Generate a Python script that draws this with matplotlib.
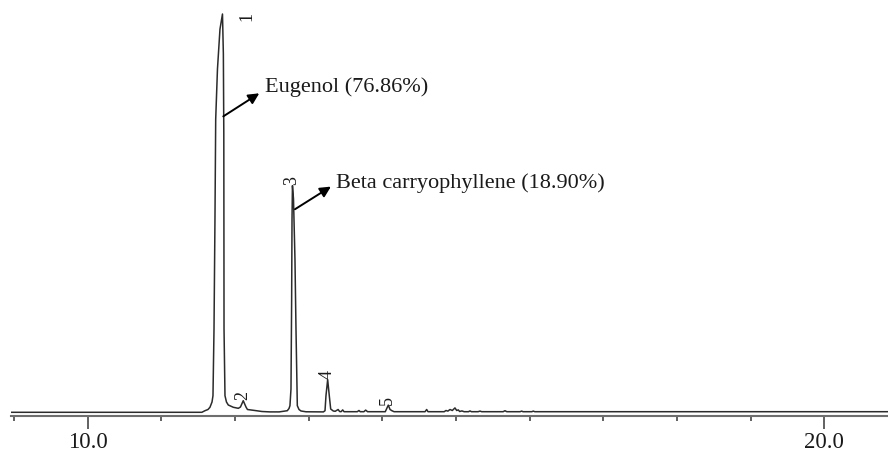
import matplotlib
matplotlib.use("Agg")
import matplotlib.pyplot as plt
from matplotlib.ticker import MultipleLocator

# trace: retention time (min) and signal (% of tallest peak)
trace_time = [8.96, 11.55, 11.592, 11.633, 11.660, 11.688, 11.701, 11.715, 11.728, 11.738,
              11.762, 11.796, 11.830, 11.842, 11.848, 11.850, 11.851, 11.864, 11.884, 11.909,
              11.977, 12.045, 12.074, 12.112, 12.149, 12.169, 12.271, 12.366, 12.475,
              12.60, 12.710, 12.733, 12.746, 12.760, 12.769, 12.774, 12.780, 12.794, 12.814,
              12.828, 12.846, 12.869, 12.896, 12.964,
              13.20, 13.222, 13.235, 13.258, 13.280, 13.299, 13.334, 13.36, 13.40, 13.42,
              13.44, 13.462, 13.48, 13.66, 13.683, 13.70, 13.75, 13.774, 13.80,
              14.04, 14.081, 14.105, 14.13, 14.16, 14.58, 14.602, 14.62,
              14.84, 14.864, 14.89, 14.919, 14.95, 14.986, 15.01, 15.031, 15.05, 15.081, 15.11,
              15.17, 15.19, 15.21, 15.30, 15.326, 15.35, 15.64, 15.665, 15.69,
              15.87, 15.892, 15.91, 16.03, 16.049, 16.07, 20.87]
trace_signal = [0.0, 0.0, 0.40, 0.70, 1.26, 2.59, 4.17, 20.9, 48.5, 73.6,
                86.2, 96.2, 100.0, 90.0, 70.0, 40.0, 20.9, 4.17, 2.59, 1.83,
                1.26, 1.00, 1.33, 2.91, 1.33, 0.70, 0.45, 0.20, 0.10,
                0.10, 0.40, 0.95, 1.66, 5.85, 28.4, 48.5, 56.9, 53.6, 38.5,
                20.9, 1.66, 0.70, 0.33, 0.13,
                0.10, 0.40, 4.17, 8.2, 4.17, 0.83, 0.33, 0.25, 0.70, 0.20,
                0.15, 0.60, 0.15, 0.15, 0.45, 0.15, 0.15, 0.55, 0.15,
                0.15, 1.80, 0.70, 0.40, 0.15, 0.15, 0.70, 0.15,
                0.15, 0.45, 0.30, 0.70, 0.45, 1.10, 0.45, 0.60, 0.20, 0.35, 0.15,
                0.15, 0.35, 0.15, 0.15, 0.30, 0.15, 0.15, 0.40, 0.15,
                0.15, 0.30, 0.15, 0.15, 0.30, 0.15, 0.15]

peak_labels = ["1", "2", "3", "4", "5"]
peak_time = [11.830, 12.112, 12.780, 13.258, 14.081]
peak_height = [100.0, 2.91, 56.9, 8.2, 1.80]

compound_names = ["Eugenol", "Beta carryophyllene"]
compound_percent = [76.86, 18.90]
compound_peak = [0, 2]

major_ticks = [10.0, 20.0]

plt.rcParams['font.family'] = ['Liberation Serif', 'DejaVu Serif']

fig = plt.figure(figsize=(8.88, 4.52), dpi=100)
ax = fig.add_axes([11 / 888, 35.3 / 452, 877 / 888, 416.7 / 452])

ax.plot(trace_time, trace_signal, color='#2b2b2b', lw=1.1)

ax.set_xlim(8.959, 20.865)
ax.set_ylim(-0.854, 103.77)

# axis: only the bottom line with ticks
for side in ['left', 'right', 'top']:
    ax.spines[side].set_visible(False)
ax.spines['bottom'].set_color('#6e6e6e')
ax.spines['bottom'].set_linewidth(1.5)
ax.set_yticks([])
ax.set_xticks(major_ticks)
ax.set_xticklabels(["%.1f" % t for t in major_ticks], fontsize=16.5, color='#1a1a1a')
ax.xaxis.set_minor_locator(MultipleLocator(1.0))
ax.tick_params(axis='x', which='major', length=9, width=1.3, color='#555555', pad=2)
ax.tick_params(axis='x', which='minor', length=3.6, width=1.3, color='#555555')

# peak numbers, rotated above each apex (the first one sits beside it)
for i, lab in enumerate(peak_labels):
    if i == 0:
        ax.annotate(lab, (peak_time[i], peak_height[i]), xytext=(17.5, -1.2),
                    textcoords='offset points', rotation=90, ha='center', va='center',
                    fontsize=13, color='#1a1a1a')
    else:
        ax.annotate(lab, (peak_time[i], peak_height[i]), xytext=(-0.5, 1),
                    textcoords='offset points', rotation=90, ha='center', va='bottom',
                    fontsize=13, color='#1a1a1a')

# compound names with arrows from the peak flank
arrow_start = [(0.011, 0.743), (0.034, 0.896)]   # (time offset, fraction of peak height)
arrow_tip = [(25.9, 16.6), (25.9, 16.3)]          # points from arrow start
text_offset = [(30.0, 21.6), (29.5, 19.7)]        # points from arrow start
for name, pct, p, st, tip, off in zip(compound_names, compound_percent, compound_peak,
                                      arrow_start, arrow_tip, text_offset):
    x0 = peak_time[p] + st[0]
    y0 = peak_height[p] * st[1]
    ax.annotate("", xy=(x0, y0), xytext=tip, textcoords='offset points',
                arrowprops=dict(arrowstyle='<|-', color='black', lw=1.4,
                                mutation_scale=16, shrinkA=0, shrinkB=0))
    ax.annotate("%s (%.2f%%)" % (name, pct), (x0, y0), xytext=off,
                textcoords='offset points', ha='left', va='center',
                fontsize=16, color='#1a1a1a')

fig.savefig('out.png', dpi=100)
